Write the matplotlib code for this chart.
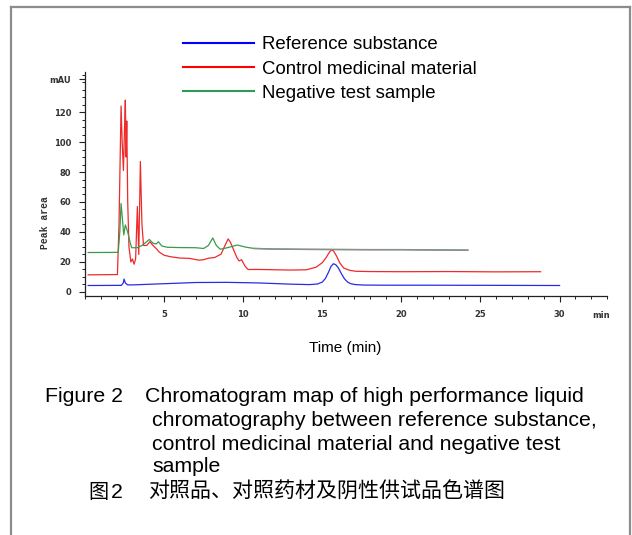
import numpy as np
import matplotlib
matplotlib.use('Agg')
import matplotlib.pyplot as plt
from matplotlib.lines import Line2D
from matplotlib.ticker import MultipleLocator

# reference substance (blue)
ref_t = [0.2, 2.3, 2.42, 2.47, 2.55, 2.7, 3.0, 5.0, 7.0, 9.0, 11.0, 13.0, 14.2, 14.7, 15.0, 15.2,
         15.4, 15.55, 15.7, 15.85, 16.0, 16.2, 16.4, 16.6, 16.8, 17.1, 17.6, 19.0, 22.0, 26.0, 30.0]
ref_v = [4.3, 4.4, 6.0, 8.6, 6.0, 4.7, 4.7, 5.5, 6.3, 6.4, 6.0, 5.2, 4.9, 5.3, 6.6, 9.0,
         13.3, 17.0, 18.8, 18.2, 16.3, 12.4, 8.8, 6.6, 5.5, 4.9, 4.6, 4.5, 4.5, 4.4, 4.3]

# control medicinal material (red)
ctl_t = [0.2, 2.05, 2.15, 2.28, 2.35, 2.43, 2.5, 2.55, 2.6, 2.64, 2.7, 2.78, 2.9, 3.0, 3.1, 3.2,
         3.31, 3.4, 3.5, 3.6, 3.7, 3.9, 4.1, 4.3, 4.5, 4.7, 5.0, 5.4, 6.0, 6.6, 7.2, 7.5, 7.8,
         8.2, 8.6, 8.85, 9.05, 9.2, 9.42, 9.6, 9.74, 9.9, 10.1, 10.3, 11.0, 12.0, 13.0, 14.0,
         14.6, 15.0, 15.25, 15.45, 15.56, 15.7, 15.9, 16.1, 16.35, 16.7, 17.1, 18.0, 20.0, 23.0,
         26.0, 28.8]
ctl_v = [11.4, 11.6, 45.0, 124.0, 100.0, 81.0, 110.0, 128.0, 90.0, 114.0, 60.0, 30.0, 20.0, 22.0,
         18.5, 22.0, 57.0, 25.0, 87.0, 45.0, 31.0, 31.0, 33.5, 31.0, 29.0, 26.5, 24.5, 23.5, 22.6,
         22.4, 21.2, 21.5, 22.5, 23.0, 25.2, 31.0, 35.4, 33.0, 27.5, 23.0, 20.7, 21.5, 17.5, 15.0,
         15.0, 14.8, 14.6, 14.8, 16.5, 19.5, 23.0, 26.5, 27.9, 27.5, 24.0, 19.5, 16.0, 14.5, 13.8,
         13.6, 13.5, 13.6, 13.4, 13.5]

# negative test sample (green)
neg_t = [0.2, 2.1, 2.2, 2.28, 2.38, 2.45, 2.55, 2.7, 2.85, 2.95, 3.3, 3.6, 4.07, 4.3, 4.5, 4.64,
         4.85, 5.2, 6.0, 7.0, 7.5, 7.8, 8.08, 8.3, 8.55, 9.0, 9.63, 10.2, 10.7, 12.0, 14.0, 16.0,
         18.0, 20.0, 22.0, 24.2]
neg_v = [26.3, 26.4, 40.0, 59.0, 47.0, 38.0, 44.7, 40.0, 33.0, 29.5, 29.5, 31.0, 35.0, 32.5, 32.0,
         33.5, 30.7, 29.8, 29.6, 29.5, 29.0, 31.0, 36.0, 31.0, 28.5, 29.5, 31.3, 29.8, 29.0, 28.6,
         28.4, 28.3, 28.2, 28.2, 28.0, 27.9]

labels = ['Reference substance', 'Control medicinal material', 'Negative test sample']
x_ticks = [5, 10, 15, 20, 25, 30]
y_ticks = [0, 20, 40, 60, 80, 100, 120, 142]
y_tick_labels = ['0', '20', '40', '60', '80', '100', '120', 'mAU']

W, H = 632, 535
fig = plt.figure(figsize=(W / 100, H / 100), dpi=100)
ax = fig.add_axes([85 / W, 1 - 296 / H, 522 / W, 224 / H])

ax.plot(ref_t, ref_v, color='#2a2ae6', lw=0.9)
ax.plot(ctl_t, ctl_v, color='#ee2a2a', lw=0.9)
ax.plot(neg_t, neg_v, color='#3c9a4c', lw=0.9)
neg_t_arr = np.array(neg_t)
neg_v_arr = np.array(neg_v)
late = neg_t_arr >= 10.6
ax.plot(neg_t_arr[late], neg_v_arr[late], color='#8e8e8e', lw=1.1)

ax.set_xlim(0, 33.0)
ax.set_ylim(-2.7, 146.7)
for s in ['top', 'right']:
    ax.spines[s].set_visible(False)
for s in ['left', 'bottom']:
    ax.spines[s].set_linewidth(0.9)
    ax.spines[s].set_color('#222222')

ax.set_xticks(x_ticks)
ax.set_xticklabels([str(t) for t in x_ticks])
ax.xaxis.set_minor_locator(MultipleLocator(1))
ax.set_yticks(y_ticks)
ax.set_yticklabels(y_tick_labels)
ax.yaxis.set_minor_locator(MultipleLocator(5))
ax.tick_params(which='major', direction='out', length=4, width=0.8, color='#222222',
               labelsize=6, pad=6)
ax.tick_params(which='minor', direction='out', length=2.5, width=0.7, color='#222222')
for lab in ax.get_xticklabels() + ax.get_yticklabels():
    lab.set_fontweight('bold')
    lab.set_color('#333333')
ax.text(32.6, -12.5, 'min', ha='center', va='top', fontsize=6, fontweight='bold',
        color='#333333', clip_on=False)

fig.text(45 / W, 1 - 223 / H, 'Peak area', rotation=90, ha='center', va='center',
         family='Liberation Mono', fontsize=7, fontweight='bold', color='#333333')

leg_handles = [Line2D([], [], color=c, lw=1.5) for c in ['#0000ff', '#ff0000', '#2e9a5a']]
fig.legend(leg_handles, labels, loc='upper left', bbox_to_anchor=(183 / W, 1 - 36 / H),
           frameon=False, prop={'family': 'Liberation Sans', 'size': 13.4},
           handlelength=3.8, handletextpad=0.45, labelspacing=0.4, borderpad=0,
           borderaxespad=0)

fig.text(345 / W, 1 - 348 / H, 'Time (min)', ha='center', va='center',
         family='Liberation Sans', fontsize=11)

cap = dict(family='Liberation Sans', fontsize=15.3, va='center', ha='left')
fig.text(45 / W, 1 - 397 / H, 'Figure 2', **cap)
fig.text(145 / W, 1 - 397 / H, 'Chromatogram map of high performance liquid', **cap)
fig.text(152 / W, 1 - 421 / H, 'chromatography between reference substance,', **cap)
fig.text(152 / W, 1 - 445 / H, 'control medicinal material and negative test', **cap)
fig.text(152 / W, 1 - 466 / H, 'sample', **cap)
fig.text(88 / W, 1 - 492 / H, '图', family='Noto Sans CJK SC', fontweight='light',
         fontsize=14.5, va='center', ha='left')
fig.text(111 / W, 1 - 492 / H, '2', family='Liberation Sans', fontsize=15.3,
         va='center', ha='left')
fig.text(148 / W, 1 - 492 / H, '对照品、对照药材及阴性供试品色谱图',
         family='Noto Sans CJK SC', fontweight='light', fontsize=15.1,
         va='center', ha='left')

# grey frame round the figure
border = dict(color='#8c8c8c', lw=1.6, transform=fig.transFigure)
fig.add_artist(Line2D([11 / W, 11 / W], [0, 1 - 7 / H], **border))
fig.add_artist(Line2D([11 / W, 630 / W], [1 - 7 / H, 1 - 7 / H], **border))
fig.add_artist(Line2D([630 / W, 630 / W], [0, 1 - 7 / H], **border))

fig.savefig('out.png', dpi=100)
